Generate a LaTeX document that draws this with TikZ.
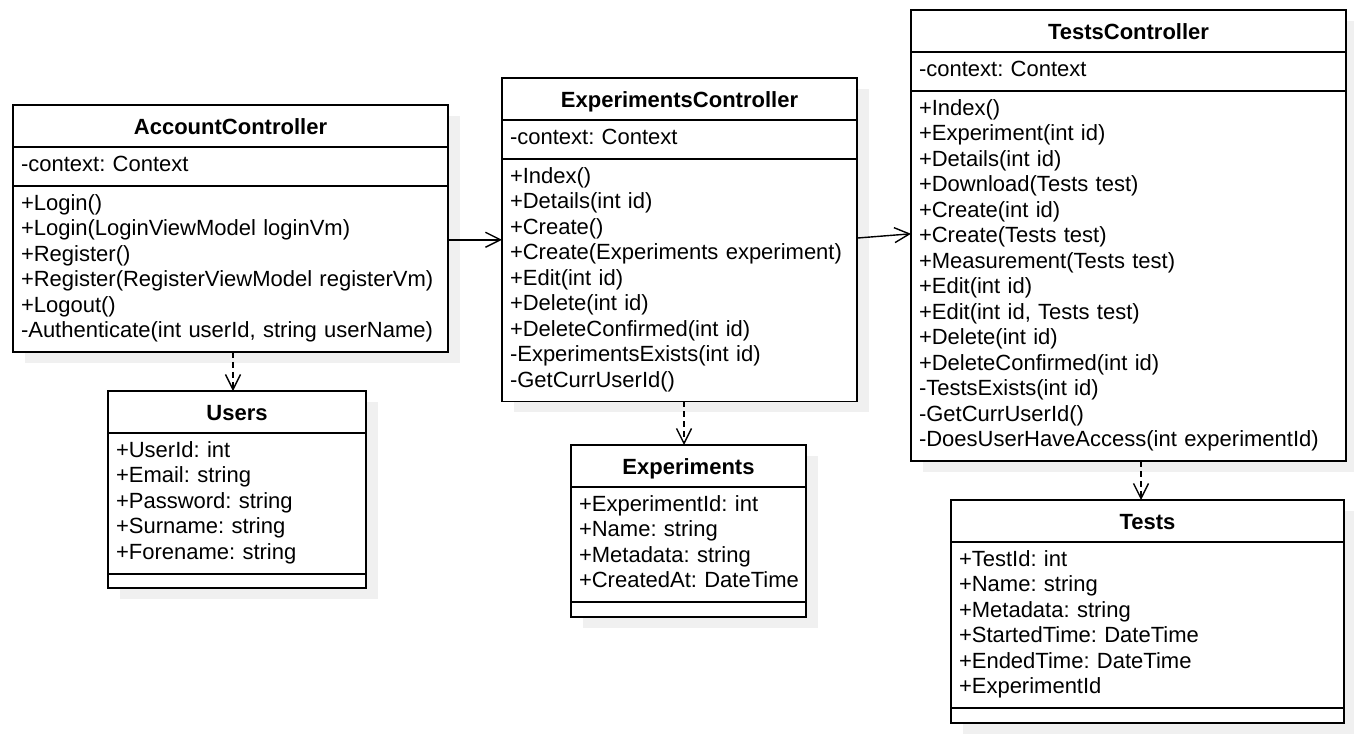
\documentclass[tikz,border=0pt]{standalone}
\usepackage{fontspec}
\setmainfont{Liberation Sans}
\usepackage{tikz}
\usetikzlibrary{arrows.meta,shadows}
\frenchspacing

\begin{document}
\begin{tikzpicture}[x=1pt,y=-1pt,
  font=\fontsize{22}{25.5}\selectfont,
  part/.style={draw, line width=1.6pt, fill=white, outer sep=0pt, inner xsep=8pt, inner ysep=6.6pt, anchor=north,
    drop shadow={shadow xshift=12pt, shadow yshift=-11pt, fill=black!6, opacity=1}},
  classname/.style={part, minimum height=42pt, text height=16pt, text depth=0pt, font=\fontsize{22}{25.5}\selectfont\bfseries},
  members/.style={part, text width=#1, align=left},
  blank/.style={part, minimum width=#1, minimum height=14.5pt},
  uses/.style={-{Straight Barb[length=15pt,width=15pt]}, line width=1.4pt},
  depends/.style={uses, dash pattern=on 6pt off 4pt}]
\useasboundingbox (0,0) rectangle (1354,737);

% controllers
\node (accounttitle) [classname, minimum width=435pt] at (230.5,105) {AccountController};
\node (accountattr) [members=419pt] at (accounttitle.south) {\begin{tabular}{@{}l@{}}-context: Context\end{tabular}};
\node (accountops) [members=419pt] at (accountattr.south) {\begin{tabular}{@{}l@{}}+Login()\\+Login(LoginViewModel loginVm)\\+Register()\\+Register(RegisterViewModel registerVm)\\+Logout()\\-Authenticate(int userId, string userName)\end{tabular}};

\node (expctrltitle) [classname, minimum width=355pt] at (679.5,78) {ExperimentsController};
\node (expctrlattr) [members=339pt] at (expctrltitle.south) {\begin{tabular}{@{}l@{}}-context: Context\end{tabular}};
\node (expctrlops) [members=339pt] at (expctrlattr.south) {\begin{tabular}{@{}l@{}}+Index()\\+Details(int id)\\+Create()\\+Create(Experiments experiment)\\+Edit(int id)\\+Delete(int id)\\+DeleteConfirmed(int id)\\-ExperimentsExists(int id)\\-GetCurrUserId()\end{tabular}};

\node (testsctrltitle) [classname, minimum width=435pt] at (1128.5,10) {TestsController};
\node (testsctrlattr) [members=419pt] at (testsctrltitle.south) {\begin{tabular}{@{}l@{}}-context: Context\end{tabular}};
\node (testsctrlops) [members=419pt] at (testsctrlattr.south) {\begin{tabular}{@{}l@{}}+Index()\\+Experiment(int id)\\+Details(int id)\\+Download(Tests test)\\+Create(int id)\\+Create(Tests test)\\+Measurement(Tests test)\\+Edit(int id)\\+Edit(int id, Tests test)\\+Delete(int id)\\+DeleteConfirmed(int id)\\-TestsExists(int id)\\-GetCurrUserId()\\-DoesUserHaveAccess(int experimentId)\end{tabular}};

% models
\node (userstitle) [classname, minimum width=258pt] at (237,391) {Users};
\node (usersattr) [members=242pt] at (userstitle.south) {\begin{tabular}{@{}l@{}}+UserId: int\\+Email: string\\+Password: string\\+Surname: string\\+Forename: string\end{tabular}};
\node (usersops) [blank=258pt] at (usersattr.south) {};

\node (experimentstitle) [classname, minimum width=235pt] at (688.5,445) {Experiments};
\node (experimentsattr) [members=219pt] at (experimentstitle.south) {\begin{tabular}{@{}l@{}}+ExperimentId: int\\+Name: string\\+Metadata: string\\+CreatedAt: DateTime\end{tabular}};
\node (experimentsops) [blank=235pt] at (experimentsattr.south) {};

\node (teststitle) [classname, minimum width=393pt] at (1147.5,500) {Tests};
\node (testsattr) [members=377pt] at (teststitle.south) {\begin{tabular}{@{}l@{}}+TestId: int\\+Name: string\\+Metadata: string\\+StartedTime: DateTime\\+EndedTime: DateTime\\+ExperimentId\end{tabular}};
\node (testsops) [blank=393pt] at (testsattr.south) {};

% associations
\draw[uses] ([yshift=29pt]accountops.east) -- ([yshift=29pt]accountops.east -| expctrlops.west);
\draw[uses] ([yshift=42pt]expctrlops.east) -- ([yshift=42pt]testsctrlops.west);

% dependencies
\draw[depends] ([xshift=2.5pt]accountops.south) -- ([xshift=2.5pt]accountops.south |- userstitle.north);
\draw[depends] ([xshift=4.5pt]expctrlops.south) -- ([xshift=4.5pt]expctrlops.south |- experimentstitle.north);
\draw[depends] ([xshift=12.5pt]testsctrlops.south) -- ([xshift=12.5pt]testsctrlops.south |- teststitle.north);
\end{tikzpicture}
\end{document}
